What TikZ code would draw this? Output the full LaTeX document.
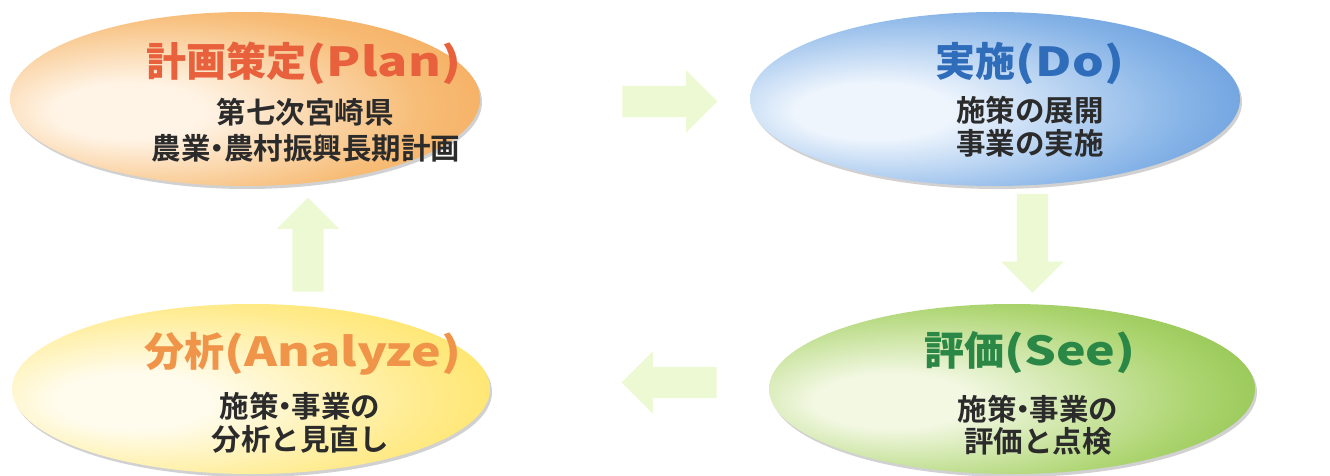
\documentclass[tikz,border=0pt]{standalone}
\usepackage{graphicx}
\usepackage{fontspec}
\newfontfamily\cjkH{Noto Sans CJK JP Black}
\newfontfamily\cjkB{Noto Sans CJK JP Bold}
\usetikzlibrary{shapes.geometric,shapes.arrows,shadows}
\definecolor{planE}{HTML}{F39A40}
\definecolor{planM}{HTML}{F7BD78}
\definecolor{planI}{HTML}{FFF4E6}
\definecolor{doE}{HTML}{3F80D0}
\definecolor{doM}{HTML}{8AB6E8}
\definecolor{doI}{HTML}{EEF5FD}
\definecolor{seeE}{HTML}{73B228}
\definecolor{seeM}{HTML}{ADD571}
\definecolor{seeI}{HTML}{F2F8E2}
\definecolor{anaE}{HTML}{FFDC3C}
\definecolor{anaM}{HTML}{FFEB8C}
\definecolor{anaI}{HTML}{FFFCEE}
\definecolor{planT}{HTML}{E8603C}
\definecolor{doT}{HTML}{2F6DBA}
\definecolor{seeT}{HTML}{2A8746}
\definecolor{anaT}{HTML}{F0944A}
\definecolor{subT}{HTML}{2B2B2B}
\definecolor{arrowC}{HTML}{EDF9D3}
\pgfdeclareradialshading{plansh}{\pgfpoint{-14bp}{-4bp}}{color(0bp)=(planI); color(8bp)=(planI); color(27bp)=(planM); color(46bp)=(planE); color(70bp)=(planE)}
\pgfdeclareradialshading{dosh}{\pgfpoint{-14bp}{-4bp}}{color(0bp)=(doI); color(8bp)=(doI); color(27bp)=(doM); color(46bp)=(doE); color(70bp)=(doE)}
\pgfdeclareradialshading{seesh}{\pgfpoint{-14bp}{-4bp}}{color(0bp)=(seeI); color(8bp)=(seeI); color(27bp)=(seeM); color(46bp)=(seeE); color(70bp)=(seeE)}
\pgfdeclareradialshading{anash}{\pgfpoint{-14bp}{-4bp}}{color(0bp)=(anaI); color(8bp)=(anaI); color(27bp)=(anaM); color(46bp)=(anaE); color(70bp)=(anaE)}
\newcommand{\lat}[1]{\scalebox{1.25}[1]{#1}}
\newcommand{\dt}{\makebox[0.45em][c]{・}}
\begin{document}
\begin{tikzpicture}[x=1pt,y=-1pt,
  phase/.style={ellipse, draw=none, inner sep=0pt,
    drop shadow={shadow xshift=2pt, shadow yshift=-3pt, opacity=0.4, fill=black!45}},
  ttl/.style={anchor=base, inner sep=0pt, font=\cjkH\fontsize{40}{40}\selectfont},
  sub/.style={anchor=base, inner sep=0pt, text=subT, font=\cjkB\fontsize{29.5}{29.5}\selectfont},
  blk/.style={single arrow, fill=arrowC, draw=none, inner xsep=0pt, inner ysep=15.5pt,
    minimum width=62pt, single arrow head extend=15.5pt, single arrow tip angle=90}]
\useasboundingbox (0,0) rectangle (1330,476);
\fill[white] (0,0) rectangle (1330,476);
% ellipses
\node[phase, shading=plansh, minimum width=470pt, minimum height=174pt] (plan) at (245,99) {};
\node[phase, shading=dosh, minimum width=490pt, minimum height=174pt] (do) at (995,99) {};
\node[phase, shading=anash, minimum width=478pt, minimum height=170pt] (ana) at (251,389) {};
\node[phase, shading=seesh, minimum width=486pt, minimum height=170pt] (see) at (1012,389) {};
% arrows
\node[blk, minimum height=95pt] (a1) at (662,101.5) {};
\node[blk, minimum height=99pt, rotate=-90] (a2) at (1032.5,235.5) {};
\node[blk, minimum height=95pt, rotate=180] (a3) at (677,382.5) {};
\node[blk, minimum height=94pt, rotate=90] (a4) at (308,252.5) {};
% texts
\node[ttl, text=planT] (planTitle) at (304,77) {計画策定\lat{(Plan)}};
\node[sub] (planL1) at (305,124) {第七次宮崎県};
\node[sub] (planL2) at (306,160) {農業\dt 農村振興長期計画};
\node[ttl, text=doT] (doTitle) at (1030,77) {実施\lat{(Do)}};
\node[sub] (doL1) at (1030,122) {施策の展開};
\node[sub] (doL2) at (1030,154) {事業の実施};
\node[ttl, text=anaT] (anaTitle) at (303,366) {分析\lat{(Analyze)}};
\node[sub] (anaL1) at (300,417) {施策\dt 事業の};
\node[sub] (anaL2) at (300,450) {分析と見直し};
\node[ttl, text=seeT] (seeTitle) at (1030,365) {評価\lat{(See)}};
\node[sub] (seeL1) at (1038,420) {施策\dt 事業の};
\node[sub] (seeL2) at (1038,452) {評価と点検};
\end{tikzpicture}
\end{document}
